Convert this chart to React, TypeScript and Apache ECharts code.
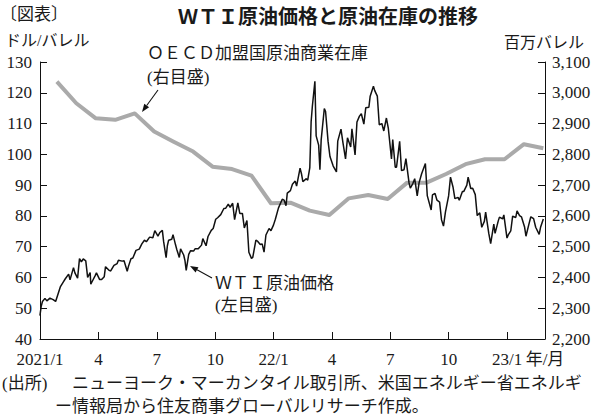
import React, { useEffect, useRef } from "react";
import * as echarts from "echarts";

const FONT = "'Liberation Serif', 'Noto Sans CJK JP', serif";
const TEXT = "#1a1a1a";

// x-axis tick labels (quarter starts) and unit label
const xTickLabels = ["2021/1", "4", "7", "10", "22/1", "4", "7", "10", "23/1"];
const xUnitLabel = "年/月";

// OECD commercial crude inventories (million barrels), monthly, right axis
const oecdMonths = [
  "2021-01", "2021-02", "2021-03", "2021-04", "2021-05", "2021-06", "2021-07", "2021-08", "2021-09",
  "2021-10", "2021-11", "2021-12", "2022-01", "2022-02", "2022-03", "2022-04", "2022-05", "2022-06",
  "2022-07", "2022-08", "2022-09", "2022-10", "2022-11", "2022-12", "2023-01", "2023-02",
];
const oecdValues = [
  3036, 2966, 2917, 2912, 2933, 2874, 2841, 2809, 2760,
  2752, 2731, 2641, 2643, 2617, 2603, 2657, 2668, 2655,
  2708, 2708, 2736, 2768, 2784, 2784, 2833, 2820,
];

// WTI crude price (USD / barrel), left axis
const wtiDates = [
  "2021-01-04", "2021-01-06", "2021-01-08", "2021-01-12", "2021-01-15", "2021-01-20", "2021-01-25", "2021-01-29",
  "2021-02-02", "2021-02-05", "2021-02-09", "2021-02-12", "2021-02-17", "2021-02-19", "2021-02-24", "2021-02-26",
  "2021-03-02", "2021-03-05", "2021-03-08", "2021-03-11", "2021-03-15", "2021-03-18", "2021-03-22", "2021-03-23",
  "2021-03-25", "2021-03-30", "2021-04-01", "2021-04-06", "2021-04-09", "2021-04-13", "2021-04-15", "2021-04-20",
  "2021-04-23", "2021-04-28", "2021-05-03", "2021-05-05", "2021-05-11", "2021-05-14", "2021-05-19", "2021-05-21",
  "2021-05-25", "2021-05-28", "2021-06-02", "2021-06-07", "2021-06-11", "2021-06-15", "2021-06-18", "2021-06-23",
  "2021-06-28", "2021-07-01", "2021-07-06", "2021-07-09", "2021-07-13", "2021-07-15", "2021-07-19", "2021-07-21",
  "2021-07-23", "2021-07-28", "2021-07-30", "2021-08-03", "2021-08-05", "2021-08-09", "2021-08-11", "2021-08-16",
  "2021-08-18", "2021-08-20", "2021-08-24", "2021-08-27", "2021-09-01", "2021-09-03", "2021-09-08", "2021-09-13",
  "2021-09-15", "2021-09-20", "2021-09-23", "2021-09-28", "2021-10-01", "2021-10-05", "2021-10-08", "2021-10-13",
  "2021-10-18", "2021-10-21", "2021-10-25", "2021-10-28", "2021-11-01", "2021-11-04", "2021-11-09", "2021-11-12",
  "2021-11-16", "2021-11-19", "2021-11-23", "2021-11-26", "2021-11-30", "2021-12-02", "2021-12-07", "2021-12-10",
  "2021-12-14", "2021-12-17", "2021-12-20", "2021-12-23", "2021-12-28", "2021-12-31",
  "2022-01-04", "2022-01-07", "2022-01-12", "2022-01-18", "2022-01-21", "2022-01-24", "2022-01-26", "2022-01-31",
  "2022-02-03", "2022-02-07", "2022-02-09", "2022-02-14", "2022-02-16", "2022-02-18", "2022-02-23", "2022-02-25",
  "2022-02-28", "2022-03-02", "2022-03-04", "2022-03-08", "2022-03-10", "2022-03-14", "2022-03-16", "2022-03-18",
  "2022-03-23", "2022-03-25", "2022-03-29", "2022-04-01", "2022-04-06", "2022-04-11", "2022-04-13", "2022-04-18",
  "2022-04-21", "2022-04-25", "2022-04-28", "2022-05-03", "2022-05-05", "2022-05-10", "2022-05-13", "2022-05-17",
  "2022-05-20", "2022-05-24", "2022-05-27", "2022-06-01", "2022-06-03", "2022-06-08", "2022-06-10", "2022-06-14",
  "2022-06-17", "2022-06-21", "2022-06-24", "2022-06-28", "2022-07-01", "2022-07-06", "2022-07-08", "2022-07-12",
  "2022-07-14", "2022-07-19", "2022-07-22", "2022-07-26", "2022-07-29", "2022-08-03", "2022-08-05", "2022-08-09",
  "2022-08-12", "2022-08-16", "2022-08-19", "2022-08-23", "2022-08-29", "2022-09-01", "2022-09-07", "2022-09-09",
  "2022-09-13", "2022-09-16", "2022-09-20", "2022-09-23", "2022-09-26", "2022-09-29", "2022-10-04", "2022-10-07",
  "2022-10-11", "2022-10-14", "2022-10-19", "2022-10-21", "2022-10-26", "2022-10-28", "2022-11-02", "2022-11-04",
  "2022-11-08", "2022-11-11", "2022-11-15", "2022-11-18", "2022-11-22", "2022-11-25", "2022-11-29", "2022-12-01",
  "2022-12-06", "2022-12-09", "2022-12-14", "2022-12-16", "2022-12-21", "2022-12-23", "2022-12-28", "2022-12-30",
  "2023-01-04", "2023-01-06", "2023-01-10", "2023-01-13", "2023-01-18", "2023-01-20", "2023-01-24", "2023-01-27",
  "2023-02-01", "2023-02-03", "2023-02-07", "2023-02-10", "2023-02-14", "2023-02-17", "2023-02-22", "2023-02-24",
  "2023-02-28",
];
const wtiValues = [
  47.6, 50.6, 52.2, 53.2, 52.4, 53.3, 52.8, 52.2,
  54.8, 56.9, 58.4, 59.5, 61.1, 59.2, 63.2, 61.5,
  59.8, 66.1, 65.1, 66.0, 65.4, 60.0, 61.6, 57.8,
  58.6, 60.6, 61.5, 59.3, 59.3, 60.2, 63.5, 62.4,
  62.1, 63.9, 64.5, 65.6, 65.3, 65.4, 62.0, 63.6,
  66.1, 66.3, 68.8, 69.2, 70.9, 72.1, 71.6, 73.1,
  72.9, 75.2, 73.4, 74.6, 75.3, 71.7, 66.4, 70.3,
  72.1, 72.4, 73.9, 70.6, 69.1, 66.5, 69.3, 67.3,
  65.5, 62.3, 67.5, 68.7, 68.6, 69.3, 69.3, 70.5,
  72.6, 70.3, 73.3, 75.3, 75.9, 78.9, 79.4, 80.4,
  82.4, 82.5, 83.8, 82.8, 84.1, 78.8, 84.2, 80.8,
  80.8, 76.1, 78.5, 68.2, 66.2, 66.5, 72.1, 71.7,
  70.7, 70.9, 68.2, 73.8, 75.9, 75.2,
  77.0, 78.9, 82.6, 85.4, 85.1, 83.3, 87.4, 88.2,
  90.3, 91.3, 89.7, 95.5, 93.7, 91.1, 92.1, 91.6,
  95.7, 110.6, 115.7, 123.7, 106.0, 103.0, 95.0, 104.7,
  114.9, 113.9, 104.2, 99.3, 96.2, 94.3, 104.3, 108.2,
  103.8, 98.5, 105.4, 102.4, 108.3, 99.8, 110.5, 112.4,
  113.2, 109.8, 115.1, 115.3, 118.9, 122.1, 120.7, 118.9,
  109.6, 110.0, 107.6, 111.8, 108.4, 98.5, 104.8, 95.8,
  95.8, 104.2, 94.7, 95.0, 98.6, 90.7, 89.0, 90.5,
  92.1, 86.5, 90.8, 93.7, 97.0, 86.6, 81.9, 86.8,
  87.3, 85.1, 84.5, 78.7, 76.7, 81.2, 86.5, 92.6,
  89.4, 85.6, 86.0, 85.1, 87.9, 87.9, 90.0, 92.6,
  88.9, 89.0, 86.9, 80.1, 81.0, 76.3, 78.2, 81.2,
  74.3, 71.0, 77.3, 74.3, 78.3, 79.6, 79.0, 80.3,
  72.8, 73.8, 75.1, 79.9, 79.5, 81.6, 80.1, 79.7,
  76.4, 73.4, 77.1, 79.7, 79.1, 76.3, 74.0, 76.3,
  79.0,
];

// months elapsed since 2021-01-01 (fractional)
function toMonths(date: string): number {
  const [y, m, d] = date.split("-").map(Number);
  const days = new Date(y, m, 0).getDate();
  return (y - 2021) * 12 + (m - 1) + (d - 1) / days;
}
function monthEnd(ym: string): number {
  const [y, m] = ym.split("-").map(Number);
  const days = new Date(y, m, 0).getDate();
  return toMonths(`${y}-${String(m).padStart(2, "0")}-${days}`);
}

const X_MIN = 0.1;
const X_MAX = 26.05;
const tickValues = xTickLabels.map((_, i) => X_MIN + i * 3);

function arrow(x1: number, y1: number, x2: number, y2: number) {
  const dx = x2 - x1;
  const dy = y2 - y1;
  const len = Math.hypot(dx, dy);
  const ux = dx / len;
  const uy = dy / len;
  const hl = 8;
  const hw = 3;
  const bx = x2 - ux * hl;
  const by = y2 - uy * hl;
  return [
    {
      type: "line",
      shape: { x1, y1, x2: bx, y2: by },
      style: { stroke: "#111", lineWidth: 1.1 },
      z: 100,
    },
    {
      type: "polygon",
      shape: {
        points: [
          [x2, y2],
          [bx - uy * hw, by + ux * hw],
          [bx + uy * hw, by - ux * hw],
        ],
      },
      style: { fill: "#111" },
      z: 100,
    },
  ];
}

function txt(text: string, x: number, y: number, size: number, align = "left", weight = "normal", family = FONT) {
  return {
    type: "text",
    x,
    y,
    z: 100,
    style: {
      text,
      fill: TEXT,
      font: `${weight} ${size}px ${family}`,
      textAlign: align,
      textVerticalAlign: "middle",
    },
  };
}

export default function App() {
  const ref = useRef<HTMLDivElement>(null);

  useEffect(() => {
    if (!ref.current) return;
    const chart = echarts.init(ref.current, null, { renderer: "svg" });

    const wtiData = wtiDates.map((d, i) => [toMonths(d), wtiValues[i]]);
    const oecdData = oecdMonths.map((m, i) => [monthEnd(m), oecdValues[i]]);

    const axisFont = { fontSize: 17, fontFamily: FONT, color: TEXT };

    chart.setOption({
      animation: false,
      backgroundColor: "#fff",
      grid: { left: 40, right: 55, top: 62, bottom: 78, containLabel: false },
      xAxis: {
        type: "value",
        min: X_MIN,
        max: X_MAX,
        axisLine: { show: true, onZero: false, lineStyle: { color: "#111", width: 1 } },
        axisTick: { show: true, inside: true, length: 7, customValues: tickValues, lineStyle: { color: "#111" } },
        axisLabel: {
          ...axisFont,
          margin: 12,
          customValues: [...tickValues, X_MAX],
          formatter: (v: number) => {
            if (v > 25) return xUnitLabel;
            const k = Math.round((v - X_MIN) / 3);
            return xTickLabels[k] ?? "";
          },
        },
        splitLine: { show: false },
      },
      yAxis: [
        {
          type: "value",
          position: "left",
          min: 40,
          max: 130,
          interval: 10,
          axisLine: { show: true, onZero: false, lineStyle: { color: "#111", width: 1 } },
          axisTick: { show: true, inside: true, length: 7, lineStyle: { color: "#111" } },
          axisLabel: { ...axisFont, margin: 8 },
          splitLine: { show: false },
        },
        {
          type: "value",
          position: "right",
          min: 2200,
          max: 3100,
          interval: 100,
          axisLine: { show: true, onZero: false, lineStyle: { color: "#111", width: 1 } },
          axisTick: { show: true, inside: true, length: 7, lineStyle: { color: "#111" } },
          axisLabel: { ...axisFont, margin: 7, formatter: (v: number) => v.toLocaleString("en-US") },
          splitLine: { show: false },
        },
      ],
      series: [
        {
          name: "OECD加盟国原油商業在庫",
          type: "line",
          yAxisIndex: 1,
          data: oecdData,
          showSymbol: false,
          lineStyle: { color: "#aaaaaa", width: 4, join: "round" },
          itemStyle: { color: "#aaaaaa" },
          z: 2,
        },
        {
          name: "WTI原油価格",
          type: "line",
          yAxisIndex: 0,
          data: wtiData,
          showSymbol: false,
          lineStyle: { color: "#111", width: 1.5 },
          itemStyle: { color: "#111" },
          z: 3,
        },
      ],
      graphic: [
        txt("〔図表〕", 0, 14, 17),
        txt("ＷＴＩ原油価格と原油在庫の推移", 328, 15, 20, "center", "bold", "'Noto Sans CJK JP', sans-serif"),
        txt("ドル/バレル", 5, 40, 16),
        txt("百万バレル", 584, 42, 16, "right"),
        txt("ＯＥＣＤ加盟国原油商業在庫", 147, 53, 17),
        txt("(右目盛)", 147, 77, 17),
        txt("ＷＴＩ原油価格", 215, 283, 17),
        txt("(左目盛)", 215, 305, 17),
        txt("(出所)", 2, 383, 17),
        txt("ニューヨーク・マーカンタイル取引所、米国エネルギー省エネルギ", 72, 383, 17),
        txt("ー情報局から住友商事グローバルリサーチ作成。", 55, 406, 17),
        ...arrow(158, 90, 142, 112),
        ...arrow(212, 278, 190, 266),
      ],
    });

    return () => chart.dispose();
  }, []);

  return (
    <div
      ref={ref}
      style={{ position: "absolute", left: 0, top: 0, width: 600, height: 417, background: "#fff" }}
    />
  );
}
